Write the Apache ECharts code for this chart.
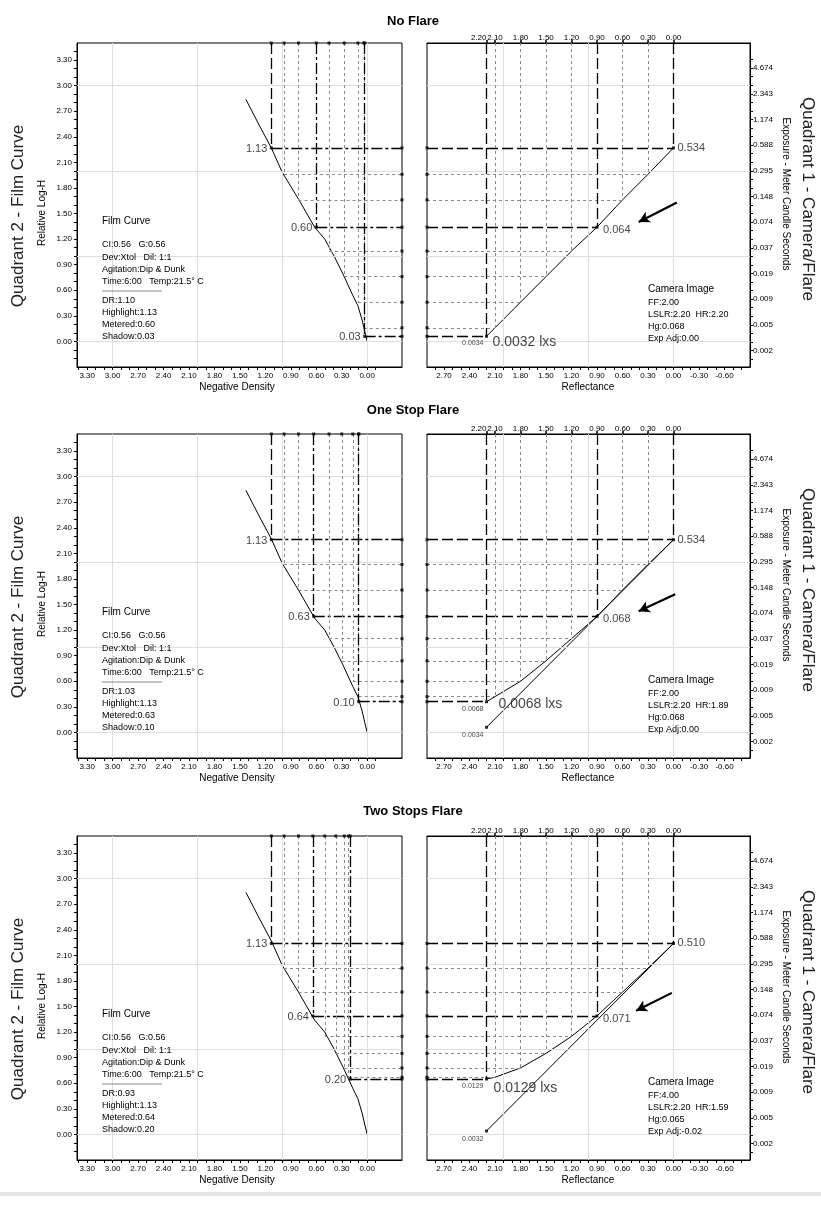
<!DOCTYPE html>
<html><head><meta charset="utf-8">
<script src="https://cdn.jsdelivr.net/npm/echarts@6/dist/echarts.min.js"></script>
<style>html,body{margin:0;padding:0;background:#fff}#c{width:821px;height:1224px}</style>
</head><body><div id="c"></div>
<script>
// ---------------- DATA ----------------
const panelTitles = ['No Flare', 'One Stop Flare', 'Two Stops Flare'];

// film characteristic curve: [negative density, relative log-H]
const filmCurve = [[1.43,2.84],[1.28,2.55],[1.13,2.27],[1.00,1.98],[0.81,1.67],[0.62,1.34],[0.50,1.20],
  [0.39,1.00],[0.285,0.79],[0.17,0.54],[0.11,0.42],[0.06,0.25],[0.025,0.10],[0.0,0.0]];

// subject reflectance steps (density units)
const reflectanceSteps = [0.00, 0.30, 0.60, 0.90, 1.20, 1.50, 1.80, 2.10, 2.20];

// relative log-H reached by each reflectance step (camera/flare curve), per panel
const stepLogH = [
  [2.27, 1.96, 1.66, 1.34, 1.06, 0.76, 0.46, 0.16, 0.06],
  [2.26, 1.97, 1.67, 1.36, 1.10, 0.84, 0.60, 0.42, 0.36],
  [2.24, 1.95, 1.67, 1.39, 1.15, 0.95, 0.78, 0.67, 0.65]
];
// negative density produced by each step, per panel
const stepDensity = [
  [1.13, 0.98, 0.81, 0.60, 0.45, 0.27, 0.11, 0.04, 0.03],
  [1.13, 0.98, 0.81, 0.63, 0.45, 0.30, 0.17, 0.10, 0.10],
  [1.13, 0.98, 0.81, 0.64, 0.50, 0.37, 0.27, 0.22, 0.20]
];
// no-flare reference line (reflectance, log-H) shown in the flare panels
const noFlareLine = [null, [[0.00, 2.26], [2.20, 0.06]], [[0.00, 2.24], [2.20, 0.04]]];

const densityPointLabels = [['1.13','0.60','0.03'], ['1.13','0.63','0.10'], ['1.13','0.64','0.20']];
const exposurePointLabels = [['0.534','0.064','0.0034'], ['0.534','0.068','0.0068'], ['0.510','0.071','0.0129']];
const noFlareLowLabels = [null, '0.0034', '0.0032'];
const shadowLxsLabels = ['0.0032 lxs', '0.0068 lxs', '0.0129 lxs'];

const filmInfo = [
  ['DR:1.10','Highlight:1.13','Metered:0.60','Shadow:0.03'],
  ['DR:1.03','Highlight:1.13','Metered:0.63','Shadow:0.10'],
  ['DR:0.93','Highlight:1.13','Metered:0.64','Shadow:0.20']
];
const filmSetup = ['CI:0.56   G:0.56', 'Dev:Xtol   Dil: 1:1', 'Agitation:Dip & Dunk', 'Time:6:00   Temp:21.5° C'];
const cameraInfo = [
  ['FF:2.00','LSLR:2.20  HR:2.20','Hg:0.068','Exp Adj:0.00'],
  ['FF:2.00','LSLR:2.20  HR:1.89','Hg:0.068','Exp Adj:0.00'],
  ['FF:4.00','LSLR:2.20  HR:1.59','Hg:0.065','Exp Adj:-0.02']
];

// tick labels
const densityTicks = [3.30, 3.00, 2.70, 2.40, 2.10, 1.80, 1.50, 1.20, 0.90, 0.60, 0.30, 0.00];
const logHTicks = [0.00, 0.30, 0.60, 0.90, 1.20, 1.50, 1.80, 2.10, 2.40, 2.70, 3.00, 3.30];
const reflectanceTicks = [2.70, 2.40, 2.10, 1.80, 1.50, 1.20, 0.90, 0.60, 0.30, 0.00, -0.30, -0.60];
const exposureTickLabels = ['4.674','2.343','1.174','0.588','0.295','0.148','0.074','0.037','0.019','0.009','0.005','0.002'];
const EXPO_TOP_LOGH = 3.205;   // log-H position of the 4.674 tick
const LOG2 = 0.30103;

// annotation arrows (reflectance, log-H)
const arrowStart = [[-0.04, 1.63], [-0.02, 1.62], [0.02, 1.66]];
const arrowEnd = [[0.41, 1.40], [0.41, 1.42], [0.44, 1.45]];

// ---------------- LAYOUT ----------------
const FONT = "'Liberation Sans', Arial, sans-serif";
const NARROW = "'Liberation Sans Narrow', 'Arial Narrow', 'Liberation Sans', sans-serif";
const panelTop = [43, 434, 836];
const panelOff = [0, 391, 793];
const PH = 324;
const DX = [-0.41, 3.42], RX = [-0.9, 2.9], LY = [-0.3, 3.5];
const lxsOffset = [[2, 6], [8, 2], [3, 9]];

function range(a, b, step) { const o = []; for (let v = a; v <= b + 1e-9; v += step) o.push(+v.toFixed(4)); return o; }

const grids = [], xAxes = [], yAxes = [], series = [], graphics = [];
const MAJ = [0, 3, 8];
const blk = '#000';

function baseAxis(extra) {
  return Object.assign({
    type: 'value', splitLine: { show: false },
    axisLine: { show: true, onZero: false, lineStyle: { color: blk, width: 1 } },
    axisTick: { show: true, length: 3, lineStyle: { color: blk, width: 1 } },
    axisLabel: { fontSize: 8, fontFamily: NARROW, color: blk, margin: 4 }
  }, extra);
}
function lab(vals, fmt, margin) {
  return { customValues: vals, formatter: fmt, fontSize: 8, fontFamily: NARROW, color: blk, margin: margin,
    interval: 0, hideOverlap: false, showMinLabel: true, showMaxLabel: true };
}

const expoTickPos = exposureTickLabels.map((s, k) => +(EXPO_TOP_LOGH - k * LOG2).toFixed(4));
const expoMinor = [];
for (let i = -1; i < 40; i++) { const v = EXPO_TOP_LOGH - i * LOG2 / 3; if (v > -0.25 && v < 3.36) expoMinor.push(+v.toFixed(4)); }
const topMain = reflectanceSteps.slice(0, reflectanceSteps.length - 1);
const topExtra = reflectanceSteps.slice(reflectanceSteps.length - 1);

for (let p = 0; p < 3; p++) {
  const T = panelTop[p], off = panelOff[p];
  const gL = grids.length;
  grids.push({ left: 77, top: T, width: 325, height: PH, show: true, borderColor: blk, borderWidth: 1, backgroundColor: '#fff' });
  grids.push({ left: 427, top: T, width: 323, height: PH, show: true, borderColor: blk, borderWidth: 1, backgroundColor: '#fff' });
  const gR = gL + 1;

  // axes: left panel
  const xl = xAxes.length;
  xAxes.push(baseAxis({ gridIndex: gL, min: DX[0], max: DX[1], inverse: true, position: 'bottom',
    axisTick: { show: true, length: 3, customValues: range(-0.1, 3.4, 0.1), lineStyle: { color: blk } },
    axisLabel: lab(densityTicks, v => v.toFixed(2), 5) }));
  const yl = yAxes.length;
  yAxes.push(baseAxis({ gridIndex: gL, min: LY[0], max: LY[1], position: 'left',
    axisTick: { show: true, length: 3, customValues: range(-0.2, 3.4, 0.1), lineStyle: { color: blk } },
    axisLabel: lab(logHTicks, v => v.toFixed(2), 5) }));
  // axes: right panel
  const xr = xAxes.length;
  xAxes.push(baseAxis({ gridIndex: gR, min: RX[0], max: RX[1], inverse: true, position: 'bottom',
    axisTick: { show: true, length: 3, customValues: range(-0.8, 2.8, 0.1), lineStyle: { color: blk } },
    axisLabel: lab(reflectanceTicks, v => v.toFixed(2), 5) }));
  xAxes.push(baseAxis({ gridIndex: gR, min: RX[0], max: RX[1], inverse: true, position: 'top',
    axisTick: { show: true, length: 3, customValues: topMain, lineStyle: { color: blk, width: 1.5 } },
    axisLabel: lab(topMain, v => v.toFixed(2), 1) }));
  xAxes.push(baseAxis({ gridIndex: gR, min: RX[0], max: RX[1], inverse: true, position: 'top', offset: 0,
    axisLine: { show: false, onZero: false },
    axisTick: { show: true, length: 3, customValues: topExtra, lineStyle: { color: blk, width: 1.5 } },
    axisLabel: Object.assign(lab(topExtra, v => v.toFixed(2), 1), { align: 'right' }) }));
  const yr = yAxes.length;
  yAxes.push(baseAxis({ gridIndex: gR, min: LY[0], max: LY[1], position: 'right',
    axisTick: { show: true, length: 3, customValues: expoMinor, lineStyle: { color: blk } },
    axisLabel: lab(expoTickPos, v => exposureTickLabels[Math.round((EXPO_TOP_LOGH - v) / LOG2)] || '', 3) }));

  const dens = stepDensity[p], lh = stepLogH[p];

  // ---- light grid lines ----
  const gridMark = { silent: true, symbol: ['none', 'none'], label: { show: false }, lineStyle: { color: '#dedede', width: 1, type: 'solid' } };
  series.push({ type: 'line', xAxisIndex: xl, yAxisIndex: yl, data: [], z: 1,
    markLine: Object.assign({}, gridMark, { data: [0, 1, 2, 3].map(v => ({ xAxis: v })).concat([0, 1, 2, 3].map(v => ({ yAxis: v }))) }) });
  series.push({ type: 'line', xAxisIndex: xr, yAxisIndex: yr, data: [], z: 1,
    markLine: Object.assign({}, gridMark, { data: [0, 1, 2].map(v => ({ xAxis: v })).concat([0, 1, 2, 3].map(v => ({ yAxis: v }))) }) });

  // ---- step (projection) lines ----
  const majV = { color: blk, width: 1.3, type: [11, 4] };
  const majH = { color: blk, width: 1.3, type: [11, 3, 3, 3] };
  const minL = { color: '#8a8a8a', width: 1, type: [3, 3] };
  const leftLines = [], rightLines = [];
  for (let j = 0; j < reflectanceSteps.length; j++) {
    const major = MAJ.includes(j);
    leftLines.push([{ coord: [dens[j], LY[1]], lineStyle: major ? (j === 0 ? majV : majH) : minL }, { coord: [dens[j], lh[j]] }]);
    leftLines.push([{ coord: [dens[j], lh[j]], lineStyle: major ? majH : minL }, { coord: [DX[0], lh[j]] }]);
    rightLines.push([{ coord: [reflectanceSteps[j], LY[1]], lineStyle: major ? majV : minL }, { coord: [reflectanceSteps[j], lh[j]] }]);
    rightLines.push([{ coord: [RX[1], lh[j]], lineStyle: major ? majV : minL }, { coord: [reflectanceSteps[j], lh[j]] }]);
  }
  const stepMark = { silent: true, symbol: ['none', 'none'], label: { show: false } };
  series.push({ type: 'line', xAxisIndex: xl, yAxisIndex: yl, data: [], z: 2, markLine: Object.assign({ data: leftLines }, stepMark) });
  series.push({ type: 'line', xAxisIndex: xr, yAxisIndex: yr, data: [], z: 2, markLine: Object.assign({ data: rightLines }, stepMark) });

  // ---- curves ----
  series.push({ type: 'line', xAxisIndex: xl, yAxisIndex: yl, data: filmCurve, showSymbol: false, z: 3,
    lineStyle: { color: blk, width: 1 } });
  series.push({ type: 'line', xAxisIndex: xr, yAxisIndex: yr, data: reflectanceSteps.map((r, j) => [r, lh[j]]), showSymbol: false, z: 3,
    lineStyle: { color: blk, width: 1 } });
  if (noFlareLine[p]) {
    series.push({ type: 'line', xAxisIndex: xr, yAxisIndex: yr, data: noFlareLine[p], showSymbol: false, z: 3,
      lineStyle: { color: blk, width: 1 } });
  }

  // ---- arrow ----
  series.push({ type: 'line', xAxisIndex: xr, yAxisIndex: yr, data: [], z: 4,
    markLine: { silent: true, symbol: ['none', 'arrow'], symbolSize: [9, 11], label: { show: false },
      lineStyle: { color: blk, width: 2.2, type: 'solid' },
      data: [[{ coord: arrowStart[p] }, { coord: arrowEnd[p] }]] } });

  // ---- dots ----
  const ldots = [], rdots = [];
  for (let j = 0; j < reflectanceSteps.length; j++) {
    ldots.push([dens[j], LY[1]]); ldots.push([DX[0], lh[j]]);
    rdots.push([RX[1], lh[j]]);
  }
  MAJ.forEach(j => { ldots.push([dens[j], lh[j]]); rdots.push([reflectanceSteps[j], lh[j]]); });
  if (noFlareLine[p]) rdots.push(noFlareLine[p][1]);
  series.push({ type: 'scatter', xAxisIndex: xl, yAxisIndex: yl, data: ldots, symbol: 'rect', symbolSize: 3, clip: false, z: 5,
    itemStyle: { color: blk }, silent: true });
  series.push({ type: 'scatter', xAxisIndex: xr, yAxisIndex: yr, data: rdots, symbol: 'rect', symbolSize: 3, clip: false, z: 5,
    itemStyle: { color: blk }, silent: true });

  // ---- point labels ----
  const lbl = (txt, pos, size, offset) => ({ show: true, formatter: txt, position: pos, distance: 4,
    fontSize: size, fontFamily: FONT, color: '#111', offset: offset || [0, 0] });
  const leftLabels = MAJ.map((j, k) => ({ value: [dens[j], lh[j]], label: lbl(densityPointLabels[p][k], 'left', 11, [0, 1]) }));
  const rightLabels = [
    { value: [reflectanceSteps[0], lh[0]], label: lbl(exposurePointLabels[p][0], 'right', 11, [0, 0]) },
    { value: [reflectanceSteps[3], lh[3]], label: lbl(exposurePointLabels[p][1], 'right', 11, [2, 3]) },
    { value: [reflectanceSteps[8], lh[8]], label: lbl(exposurePointLabels[p][2], 'left', 7, [1, 7]) },
    { value: [reflectanceSteps[8], lh[8]], label: lbl(shadowLxsLabels[p], 'right', 14, lxsOffset[p]) }
  ];
  if (noFlareLine[p]) rightLabels.push({ value: noFlareLine[p][1], label: lbl(noFlareLowLabels[p], 'left', 7, [1, 8]) });
  series.push({ type: 'scatter', xAxisIndex: xl, yAxisIndex: yl, data: leftLabels, symbolSize: 0, clip: false, z: 6, silent: true });
  series.push({ type: 'scatter', xAxisIndex: xr, yAxisIndex: yr, data: rightLabels, symbolSize: 0, clip: false, z: 6, silent: true });

  // ---- texts ----
  const txt = (x, y, text, size, opts) => Object.assign({ type: 'text', x: x, y: y, z: 10, silent: true,
    style: Object.assign({ text: text, font: size + 'px ' + FONT, fill: '#000', align: 'left', verticalAlign: 'middle' }, (opts && opts.style) || {}) },
    opts && opts.rotation !== undefined ? { rotation: opts.rotation } : {});
  graphics.push(txt(413, 21 + (p === 0 ? 0 : p === 1 ? 389 : 790), panelTitles[p], 13, { style: { align: 'center', font: 'bold 13px ' + FONT } }));
  graphics.push(txt(18.5, 216 + off, 'Quadrant 2 - Film Curve', 17, { rotation: Math.PI / 2, style: { align: 'center', fill: '#222' } }));
  graphics.push(txt(42, 213 + off, 'Relative Log-H', 10, { rotation: Math.PI / 2, style: { align: 'center' } }));
  graphics.push(txt(786, 194 + off, 'Exposure - Meter Candle Seconds', 10, { rotation: -Math.PI / 2, style: { align: 'center' } }));
  graphics.push(txt(808, 199 + off, 'Quadrant 1 - Camera/Flare', 17, { rotation: -Math.PI / 2, style: { align: 'center', fill: '#222' } }));
  graphics.push(txt(237, 387 + off, 'Negative Density', 10, { style: { align: 'center' } }));
  graphics.push(txt(588, 387 + off, 'Reflectance', 10, { style: { align: 'center' } }));

  // film info block
  graphics.push(txt(102, 221 + off, 'Film Curve', 10));
  filmSetup.forEach((s, k) => graphics.push(txt(102, 245 + off + k * 12.2, s, 9)));
  graphics.push({ type: 'line', z: 10, silent: true, shape: { x1: 102, y1: 291 + off, x2: 162, y2: 291 + off }, style: { stroke: '#888', lineWidth: 1 } });
  filmInfo[p].forEach((s, k) => graphics.push(txt(102, 300.7 + off + k * 12, s, 9)));
  // camera info block
  graphics.push(txt(648, 289.3 + off, 'Camera Image', 10));
  cameraInfo[p].forEach((s, k) => graphics.push(txt(648, 302.7 + off + k * 11.9, s, 9)));
}

// bottom band
graphics.push({ type: 'rect', z: 0, silent: true, shape: { x: 0, y: 1192, width: 821, height: 4 }, style: { fill: '#e6e6e6' } });

const chart = echarts.init(document.getElementById('c'), null, { renderer: 'canvas' });
chart.setOption({
  animation: false,
  backgroundColor: '#fff',
  grid: grids, xAxis: xAxes, yAxis: yAxes, series: series, graphic: graphics
});
</script></body></html>
